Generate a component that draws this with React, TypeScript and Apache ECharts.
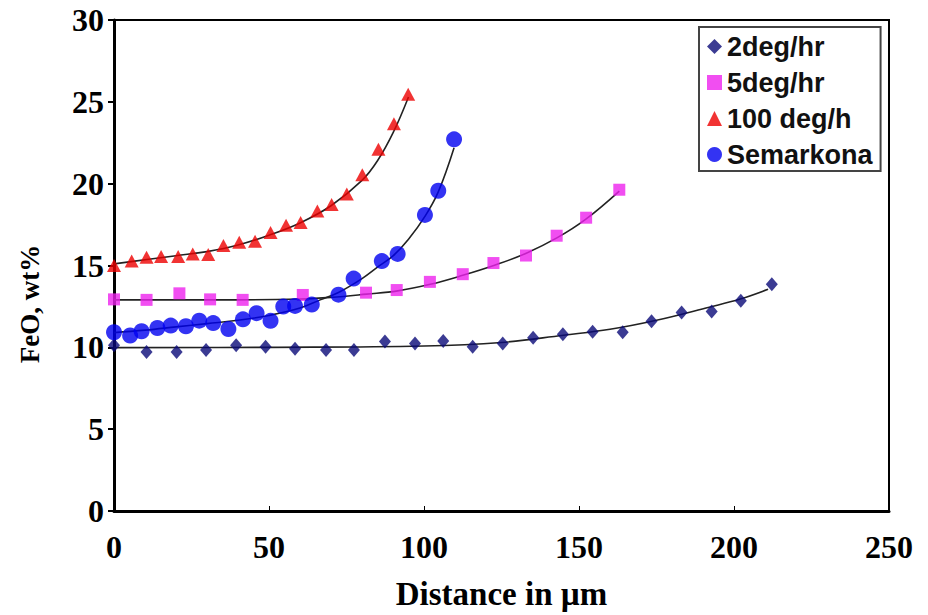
import React, { useEffect, useRef } from "react";
import * as echarts from "echarts";

// Measured data points (distance in µm, FeO wt%)
const deg2X = [0, 10.5, 20.2, 29.7, 39.4, 48.9, 58.4, 68.4, 77.4, 87.4, 97.1, 106.2, 115.7, 125.4, 135.2, 144.8, 154.4, 164.1, 173.4, 183.1, 192.8, 202.2, 212.2];
const deg2Y = [10.12, 9.72, 9.72, 9.84, 10.12, 10.04, 9.92, 9.84, 9.84, 10.35, 10.24, 10.38, 10.04, 10.24, 10.58, 10.8, 10.95, 10.92, 11.59, 12.13, 12.19, 12.85, 13.86];

const deg5X = [0, 10.5, 21.1, 31.0, 41.5, 60.9, 81.3, 91.2, 101.9, 112.5, 122.4, 132.9, 142.8, 152.3, 163.0];
const deg5Y = [12.93, 12.9, 13.3, 12.93, 12.9, 13.2, 13.34, 13.5, 14.0, 14.47, 15.15, 15.61, 16.82, 17.92, 19.63];

const deg100X = [0, 5.7, 10.5, 15.2, 20.7, 25.4, 30.4, 35.3, 40.4, 45.5, 50.5, 55.5, 60.2, 65.6, 70.2, 75.1, 80.1, 85.3, 90.3, 94.9];
const deg100Y = [15.0, 15.27, 15.51, 15.55, 15.55, 15.71, 15.67, 16.22, 16.42, 16.48, 17.02, 17.46, 17.62, 18.33, 18.73, 19.37, 20.54, 22.11, 23.66, 25.47];

const semX = [0, 5.2, 8.9, 14.0, 18.3, 23.2, 27.5, 32.0, 36.9, 41.6, 46.0, 50.5, 54.6, 58.4, 63.8, 72.4, 77.3, 86.4, 91.5, 100.3, 104.6, 109.7];
const semY = [10.92, 10.72, 10.98, 11.18, 11.33, 11.29, 11.63, 11.48, 11.12, 11.71, 12.09, 11.62, 12.49, 12.53, 12.61, 13.22, 14.2, 15.27, 15.71, 18.09, 19.57, 22.71];

// Trend lines
const deg2TrendX = [0, 50, 100, 125, 145, 160, 175, 192, 202, 211];
const deg2TrendY = [9.98, 10.0, 10.08, 10.3, 10.74, 11.1, 11.65, 12.45, 12.95, 13.55];

const deg5TrendX = [0, 40, 60, 70, 81.5, 91.5, 102, 112.5, 122.5, 133, 143, 152, 163];
const deg5TrendY = [12.9, 12.9, 12.95, 13.05, 13.25, 13.45, 13.85, 14.4, 15.0, 15.75, 16.7, 17.8, 19.55];

const deg100TrendX = [0, 10, 20, 30, 40, 50, 60, 70, 80, 85, 90, 95];
const deg100TrendY = [15.1, 15.35, 15.6, 15.85, 16.25, 16.85, 17.6, 18.65, 20.2, 21.4, 23.1, 25.3];

const semTrendX = [0, 10, 20, 30, 40, 50, 60, 66.5, 72.4, 80, 85, 90.1, 95, 100.3, 104.6, 109.7];
const semTrendY = [10.9, 11.05, 11.25, 11.45, 11.65, 11.95, 12.4, 12.9, 13.35, 14.2, 14.9, 15.6, 16.6, 18.0, 19.5, 22.2];

const seriesNames = ["2deg/hr", "5deg/hr", "100 deg/h", "Semarkona"];
const xTitle = "Distance in \u00b5m";
const yTitle = "FeO, wt%";

const zip = (xs: number[], ys: number[]) => xs.map((x, i) => [x, ys[i]]);

export default function App() {
  const ref = useRef<HTMLDivElement>(null);
  useEffect(() => {
    if (!ref.current) return;
    const chart = echarts.init(ref.current, undefined, { renderer: "svg" });
    const serif = "'Liberation Serif', 'Times New Roman', serif";
    const sans = "'Liberation Sans', Arial, sans-serif";
    const trend = (xs: number[], ys: number[]) => ({
      type: "line",
      data: zip(xs, ys),
      smooth: 0.4,
      showSymbol: false,
      symbol: "none",
      silent: true,
      lineStyle: { color: "#222", width: 1.6 },
      z: 2,
    });
    chart.setOption({
      animation: false,
      backgroundColor: "#fff",
      grid: {
        left: 114,
        top: 20,
        right: 39,
        bottom: 98,
        show: true,
        borderColor: "#000",
        borderWidth: 2,
        backgroundColor: "#fff",
      },
      legend: {
        orient: "vertical",
        left: 699,
        top: 27,
        data: seriesNames,
        backgroundColor: "#fff",
        borderColor: "#444",
        borderWidth: 2,
        padding: [6, 8, 3, 8],
        itemGap: 9,
        itemWidth: 15,
        itemHeight: 15,
        textStyle: {
          fontFamily: sans,
          fontWeight: "bold",
          fontSize: 27,
          color: "#111",
          lineHeight: 26,
        },
      },
      xAxis: {
        type: "value",
        min: 0,
        max: 250,
        interval: 50,
        name: xTitle,
        nameLocation: "middle",
        nameGap: 66,
        nameTextStyle: {
          fontFamily: serif,
          fontWeight: "bold",
          fontSize: 33,
          color: "#000",
        },
        axisLine: { show: true, lineStyle: { color: "#000", width: 3 } },
        axisTick: { show: true, inside: true, length: 5, lineStyle: { color: "#000", width: 1 } },
        axisLabel: {
          fontFamily: serif,
          fontWeight: "bold",
          fontSize: 32,
          color: "#000",
          margin: 20,
        },
        splitLine: { show: false },
      },
      yAxis: {
        type: "value",
        min: 0,
        max: 30,
        interval: 5,
        axisLine: { show: true, lineStyle: { color: "#000", width: 3 } },
        axisTick: { show: true, inside: false, length: 6, lineStyle: { color: "#000", width: 2 } },
        axisLabel: {
          fontFamily: serif,
          fontWeight: "bold",
          fontSize: 32,
          color: "#000",
          margin: 10,
        },
        splitLine: { show: false },
      },
      graphic: [
        {
          type: "text",
          x: 30,
          y: 304,
          rotation: Math.PI / 2,
          style: {
            text: yTitle,
            font: `bold 27px ${serif}`,
            fill: "#000",
            align: "center",
            verticalAlign: "middle",
          },
        },
      ],
      series: [
        trend(deg2TrendX, deg2TrendY),
        trend(deg5TrendX, deg5TrendY),
        trend(deg100TrendX, deg100TrendY),
        trend(semTrendX, semTrendY),
        {
          name: seriesNames[0],
          type: "scatter",
          symbol: "diamond",
          symbolSize: [12, 14],
          data: zip(deg2X, deg2Y),
          itemStyle: { color: "#0a0a78" },
          z: 5,
        },
        {
          name: seriesNames[1],
          type: "scatter",
          symbol: "rect",
          symbolSize: 12,
          data: zip(deg5X, deg5Y),
          itemStyle: { color: "#ee22ee" },
          z: 5,
        },
        {
          name: seriesNames[2],
          type: "scatter",
          symbol: "triangle",
          symbolSize: [14, 13],
          data: zip(deg100X, deg100Y),
          itemStyle: { color: "#ee0000" },
          z: 5,
        },
        {
          name: seriesNames[3],
          type: "scatter",
          symbol: "circle",
          symbolSize: 16,
          data: zip(semX, semY),
          itemStyle: { color: "#0000f0" },
          z: 6,
        },
      ],
    });
    return () => chart.dispose();
  }, []);
  return (
    <div
      ref={ref}
      style={{ position: "fixed", left: 0, top: 0, width: 928, height: 615 }}
    />
  );
}
